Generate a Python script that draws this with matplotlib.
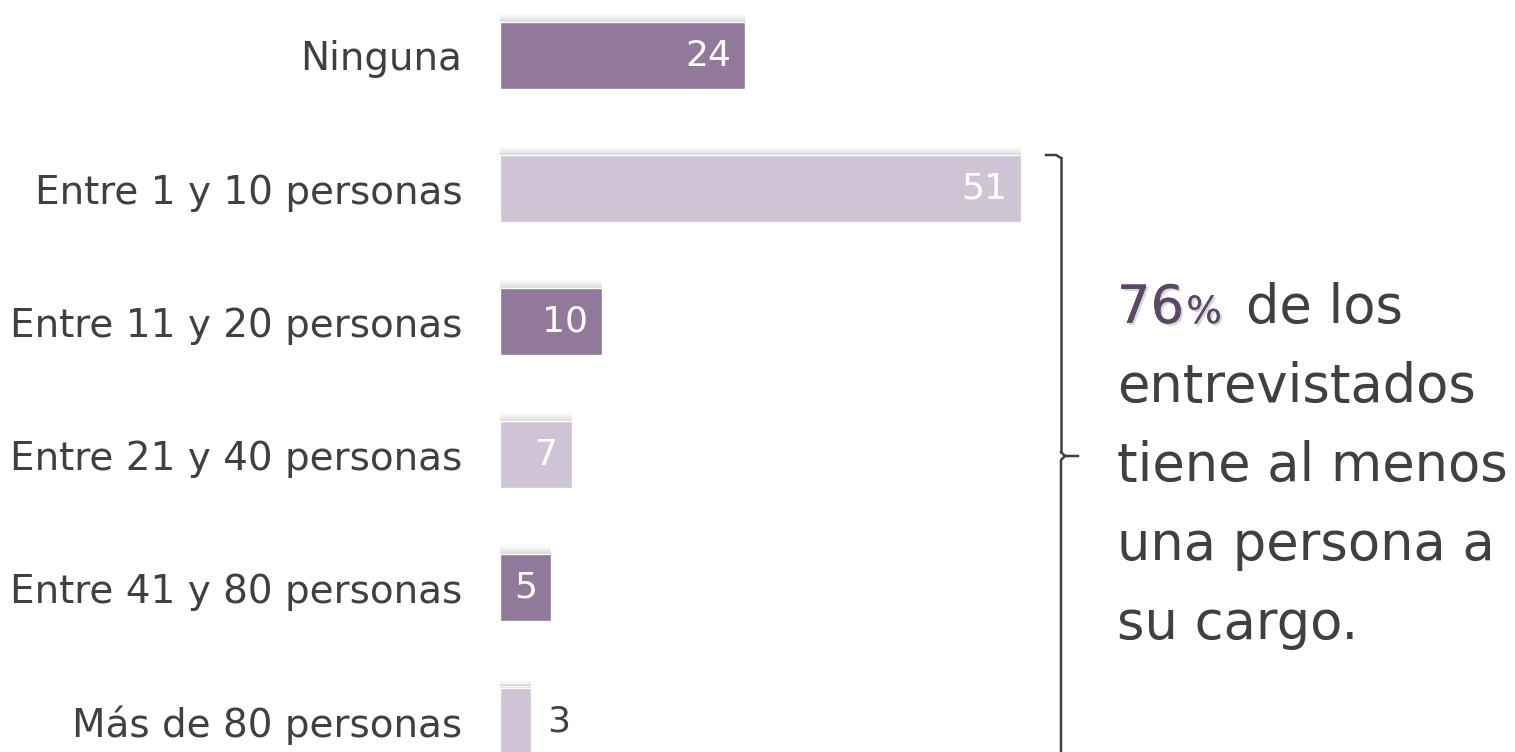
"""
Horizontal bar chart: personas a cargo
"""

import matplotlib.pyplot as plt
import matplotlib.patheffects as pe
from matplotlib.lines import Line2D

# Data
categories = [
    "Ninguna",
    "Entre 1 y 10 personas",
    "Entre 11 y 20 personas",
    "Entre 21 y 40 personas",
    "Entre 41 y 80 personas",
    "Más de 80 personas",
]
values = [24, 51, 10, 7, 5, 3]
highlight = "76%"
note_lines = ["de los", "entrevistados", "tiene al menos", "una persona a", "su cargo."]

DARK = "#92789a"
LIGHT = "#cfc4d6"
TEXT = "#404040"
W, H = 1515, 752

plt.rcParams["font.family"] = "DejaVu Sans"

fig = plt.figure(figsize=(W / 100, H / 100), dpi=100, facecolor="white")
# axes: x=0 at 500 px, x=51 at 1021 px
ax = fig.add_axes([500 / W, 0, 521 / W, 1])
ax.set_xlim(0, 51)
pitch = 133.1
ax.set_ylim((H - 55.5) / pitch, -55.5 / pitch)
px = 1 / pitch  # one pixel in y data units

positions = list(range(len(values)))
colors = [DARK if i % 2 == 0 else LIGHT for i in positions]
bar_h = 67 * px

# Soft shadow above each bar
for k in range(1, 10):
    ax.barh(
        [p - bar_h / 2 - (k - 0.5) * px for p in positions],
        values,
        height=px,
        color="#8a8a8a",
        alpha=0.32 * ((10 - k) / 9) ** 1.5,
        linewidth=0,
    )

ax.barh(positions, values, height=bar_h, color=colors, edgecolor="white", linewidth=1)

# Value labels
for i, v in enumerate(values):
    if v > 4:
        ax.annotate(
            f"{v}",
            (v, i),
            xytext=(-14, 0),
            textcoords="offset pixels",
            ha="right",
            va="center",
            color="white",
            fontsize=26,
        )
    else:
        ax.annotate(
            f"{v}",
            (v, i),
            xytext=(17, 0),
            textcoords="offset pixels",
            ha="left",
            va="center",
            color=TEXT,
            fontsize=26,
        )

ax.set_yticks(positions)
ax.set_yticklabels(categories, fontsize=28, color=TEXT)
ax.tick_params(axis="y", length=0, pad=27)
ax.set_xticks([])
for s in ax.spines.values():
    s.set_visible(False)

# Bracket (pixel coordinates -> figure fraction)
def fx(x):
    return x / W


def fy(y):
    return 1 - y / H


bx = 1061
kw = dict(color=TEXT, lw=1.8, transform=fig.transFigure)
fig.add_artist(Line2D([fx(1046), fx(1056), fx(bx)], [fy(155), fy(155), fy(158)], **kw))
fig.add_artist(Line2D([fx(bx), fx(bx)], [fy(158), fy(452)], **kw))
fig.add_artist(Line2D([fx(bx), fx(1065), fx(1078)], [fy(452), fy(456), fy(456)], **kw))
fig.add_artist(Line2D([fx(1065), fx(bx), fx(bx)], [fy(456), fy(460), fy(H + 2)], **kw))

# Annotation text
x0 = 1117
base0 = 323
spacing = 79
shadow = [pe.withSimplePatchShadow(offset=(1.5, -1.5), shadow_rgbFace="#bbbbbb", alpha=0.6),
          pe.Normal()]
t76 = fig.text(fx(x0), fy(base0), highlight[:-1], fontsize=38, color="#5b4868",
               ha="left", va="baseline", path_effects=shadow)
fig.canvas.draw()
r = fig.canvas.get_renderer()
bb = t76.get_window_extent(r)
tpc = fig.text(bb.x1 / W + 2 / W, fy(base0), highlight[-1], fontsize=27,
               color="#5b4868", ha="left", va="baseline", path_effects=shadow)
bb2 = tpc.get_window_extent(r)
fig.text(bb2.x1 / W + 24 / W, fy(base0), note_lines[0], fontsize=38, color=TEXT,
         ha="left", va="baseline")
for j, line in enumerate(note_lines[1:], start=1):
    fig.text(fx(x0), fy(base0 + j * spacing), line, fontsize=38, color=TEXT,
             ha="left", va="baseline")

plt.savefig("out.png", dpi=100, facecolor="white")
plt.close()
